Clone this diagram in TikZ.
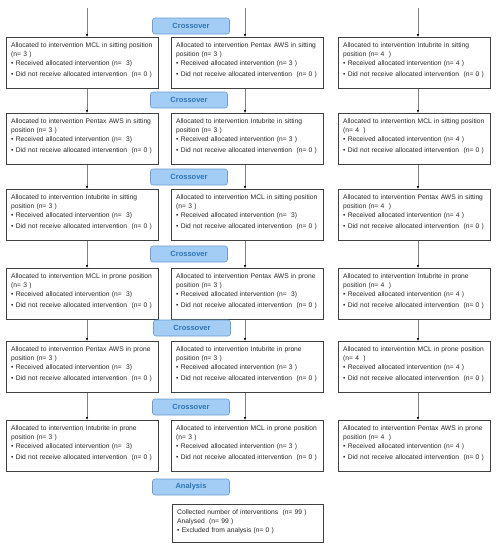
\documentclass[tikz,border=0pt]{standalone}
\usepackage{fontspec}
\setmainfont{Liberation Sans}
\usepackage{tikz}
\usetikzlibrary{arrows.meta}
\usetikzlibrary{positioning}

\definecolor{swfill}{HTML}{A3CDF5}
\definecolor{swline}{HTML}{6D9CCF}
\definecolor{swtext}{HTML}{2F74B5}

\begin{document}
\begin{tikzpicture}[x=1pt,y=-1pt,
  arm/.style={draw=black!75, line width=0.6pt, anchor=north west,
    minimum width=152pt, minimum height=51pt, inner sep=0pt},
  armtext/.style={anchor=north west, align=left, text width=144pt, inner sep=0pt,
    xshift=5pt, yshift=-5.5pt, font=\fontsize{6.7}{9}\selectfont, text=black!85},
  switch/.style={draw=swline, fill=swfill, rounded corners=2.5pt, line width=0.6pt,
    minimum width=77pt, minimum height=16pt, inner sep=0pt,
    font=\bfseries\fontsize{7.5}{8}\selectfont, text=swtext},
  flow/.style={draw=black!50, line width=0.6pt, -{Latex[length=3pt,width=2.6pt,color=black]}}]
\useasboundingbox (0,0) rectangle (498,550);

\coordinate (T_1) at (87,8);
\coordinate (T_2) at (245,8);
\coordinate (T_3) at (418,8);

% boxes of the three sequences, six periods
\foreach \r/\y in {1/37,2/113,3/189,4/268,5/341,6/420}{
  \node[arm] (S_\r_1) at (6,\y) {};
  \node[arm] (S_\r_2) at (171,\y) {};
  \node[arm] (S_\r_3) at (338,\y) {};
}

% sitting position
\node[armtext] (L_1_1) at (S_1_1.north west) {Allocated to intervention MCL in sitting position\\(n= 3 )\\• Received allocated intervention (n=~~3)\\[2pt]• Did not receive allocated intervention~~(n= 0 )};
\node[armtext] (L_1_2) at (S_1_2.north west) {Allocated to intervention Pentax AWS in sitting\\position (n= 3 )\\• Received allocated intervention (n= 3 )\\[2pt]• Did not receive allocated intervention~~(n= 0 )};
\node[armtext] (L_1_3) at (S_1_3.north west) {Allocated to intervention Intubrite in sitting\\position (n= 4~~)\\• Received allocated intervention (n= 4 )\\[2pt]• Did not receive allocated intervention~~(n= 0 )};

\node[armtext] (L_2_1) at (S_2_1.north west) {Allocated to intervention Pentax AWS in sitting\\position (n= 3 )\\• Received allocated intervention (n=~~3)\\[2pt]• Did not receive allocated intervention~~(n= 0 )};
\node[armtext] (L_2_2) at (S_2_2.north west) {Allocated to intervention Intubrite in sitting\\position (n= 3 )\\• Received allocated intervention (n= 3 )\\[2pt]• Did not receive allocated intervention~~(n= 0 )};
\node[armtext] (L_2_3) at (S_2_3.north west) {Allocated to intervention MCL in sitting position\\(n= 4~~)\\• Received allocated intervention (n= 4 )\\[2pt]• Did not receive allocated intervention~~(n= 0 )};

\node[armtext] (L_3_1) at (S_3_1.north west) {Allocated to intervention Intubrite in sitting\\position (n= 3 )\\• Received allocated intervention (n=~~3)\\[2pt]• Did not receive allocated intervention~~(n= 0 )};
\node[armtext] (L_3_2) at (S_3_2.north west) {Allocated to intervention MCL in sitting position\\(n= 3 )\\• Received allocated intervention (n=~~3)\\[2pt]• Did not receive allocated intervention~~(n= 0 )};
\node[armtext] (L_3_3) at (S_3_3.north west) {Allocated to intervention Pentax AWS in sitting\\position (n= 4~~)\\• Received allocated intervention (n= 4 )\\[2pt]• Did not receive allocated intervention~~(n= 0 )};

% prone position
\node[armtext] (L_4_1) at (S_4_1.north west) {Allocated to intervention MCL in prone position\\(n= 3 )\\• Received allocated intervention (n=~~3)\\[2pt]• Did not receive allocated intervention~~(n= 0 )};
\node[armtext] (L_4_2) at (S_4_2.north west) {Allocated to intervention Pentax AWS in prone\\position (n= 3 )\\• Received allocated intervention (n=~~3)\\[2pt]• Did not receive allocated intervention~~(n= 0 )};
\node[armtext] (L_4_3) at (S_4_3.north west) {Allocated to intervention Intubrite in prone\\position (n= 4~~)\\• Received allocated intervention (n= 4 )\\[2pt]• Did not receive allocated intervention~~(n= 0 )};

\node[armtext] (L_5_1) at (S_5_1.north west) {Allocated to intervention Pentax AWS in prone\\position (n= 3 )\\• Received allocated intervention (n=~~3)\\[2pt]• Did not receive allocated intervention~~(n= 0 )};
\node[armtext] (L_5_2) at (S_5_2.north west) {Allocated to intervention Intubrite in prone\\position (n= 3 )\\• Received allocated intervention (n= 3 )\\[2pt]• Did not receive allocated intervention~~(n= 0 )};
\node[armtext] (L_5_3) at (S_5_3.north west) {Allocated to intervention MCL in prone position\\(n= 4~~)\\• Received allocated intervention (n= 4 )\\[2pt]• Did not receive allocated intervention~~(n= 0 )};

\node[armtext] (L_6_1) at (S_6_1.north west) {Allocated to intervention Intubrite in prone\\position (n= 3 )\\• Received allocated intervention (n=~~3)\\[2pt]• Did not receive allocated intervention~~(n= 0 )};
\node[armtext] (L_6_2) at (S_6_2.north west) {Allocated to intervention MCL in prone position\\(n= 3 )\\• Received allocated intervention (n= 3 )\\[2pt]• Did not receive allocated intervention~~(n= 0 )};
\node[armtext] (L_6_3) at (S_6_3.north west) {Allocated to intervention Pentax AWS in prone\\position (n= 4~~)\\• Received allocated intervention (n= 4 )\\[2pt]• Did not receive allocated intervention~~(n= 0 )};

% crossover labels
\node[switch] (C_1) at (191,26) {Crossover};
\node[switch] (C_2) at (189,100) {Crossover};
\node[switch] (C_3) at (189,177) {Crossover};
\node[switch] (C_4) at (189,254) {Crossover};
\node[switch] (C_5) at (192,328) {Crossover};
\node[switch] (C_6) at (191,407) {Crossover};
\node[switch] (A_1) at (191,487) {Analysis};

\node[arm, minimum width=151pt, minimum height=38pt] (F_1) at (172,504) {};
\node[armtext, text width=143pt] (L_F) at (F_1.north west) {Collected number of interventions~~(n= 99 )\\Analysed~~(n= 99 )\\• Excluded from analysis (n= 0 )};

\foreach \c in {1,2,3}
\draw[flow] (T_\c) -- (T_\c |- S_1_\c.north);

\foreach \c in {1,2,3}
\foreach \r/\s in {1/2,2/3,3/4,4/5,5/6}
\draw[flow] (T_\c |- S_\r_\c.south) -- (T_\c |- S_\s_\c.north);

\end{tikzpicture}
\end{document}
